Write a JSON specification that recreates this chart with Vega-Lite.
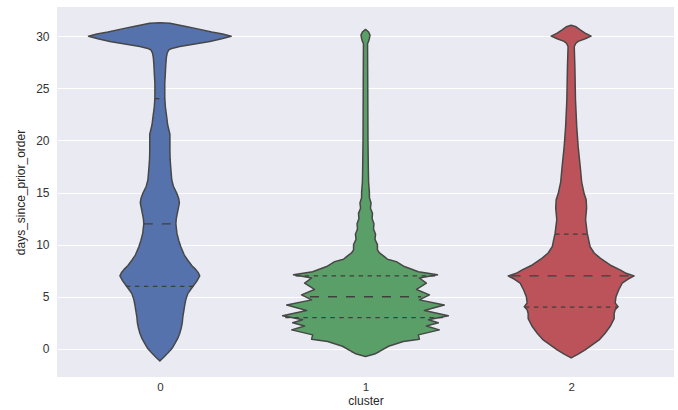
{
  "$schema": "https://vega.github.io/schema/vega-lite/v6.json",
  "width": 617,
  "height": 370,
  "autosize": {"type": "none"},
  "padding": {"left": 57, "top": 7, "right": 4, "bottom": 33},
  "background": "white",
  "config": {
    "view": {"fill": "#EAEAF2", "stroke": null},
    "font": "Liberation Sans"
  },
  "datasets": {
    "violin": [
      {"cluster": 0, "days": -1.15, "w": 0},
      {"cluster": 0, "days": -0.8, "w": 0.019},
      {"cluster": 0, "days": -0.4, "w": 0.039},
      {"cluster": 0, "days": 0, "w": 0.058},
      {"cluster": 0, "days": 0.5, "w": 0.073},
      {"cluster": 0, "days": 1.0, "w": 0.087},
      {"cluster": 0, "days": 1.5, "w": 0.097},
      {"cluster": 0, "days": 2.0, "w": 0.104},
      {"cluster": 0, "days": 2.5, "w": 0.109},
      {"cluster": 0, "days": 3.1, "w": 0.112},
      {"cluster": 0, "days": 3.7, "w": 0.117},
      {"cluster": 0, "days": 4.2, "w": 0.121},
      {"cluster": 0, "days": 4.7, "w": 0.126},
      {"cluster": 0, "days": 5.3, "w": 0.136},
      {"cluster": 0, "days": 5.7, "w": 0.150},
      {"cluster": 0, "days": 6.1, "w": 0.165},
      {"cluster": 0, "days": 6.5, "w": 0.180},
      {"cluster": 0, "days": 7.0, "w": 0.194},
      {"cluster": 0, "days": 7.3, "w": 0.187},
      {"cluster": 0, "days": 7.6, "w": 0.175},
      {"cluster": 0, "days": 8.0, "w": 0.155},
      {"cluster": 0, "days": 8.5, "w": 0.136},
      {"cluster": 0, "days": 9.0, "w": 0.119},
      {"cluster": 0, "days": 9.8, "w": 0.102},
      {"cluster": 0, "days": 10.4, "w": 0.092},
      {"cluster": 0, "days": 11.1, "w": 0.083},
      {"cluster": 0, "days": 12.0, "w": 0.078},
      {"cluster": 0, "days": 12.5, "w": 0.080},
      {"cluster": 0, "days": 13.0, "w": 0.085},
      {"cluster": 0, "days": 13.5, "w": 0.090},
      {"cluster": 0, "days": 14.0, "w": 0.095},
      {"cluster": 0, "days": 14.4, "w": 0.092},
      {"cluster": 0, "days": 14.9, "w": 0.083},
      {"cluster": 0, "days": 15.6, "w": 0.066},
      {"cluster": 0, "days": 16.2, "w": 0.058},
      {"cluster": 0, "days": 17.4, "w": 0.053},
      {"cluster": 0, "days": 18.2, "w": 0.050},
      {"cluster": 0, "days": 19.0, "w": 0.049},
      {"cluster": 0, "days": 20.0, "w": 0.049},
      {"cluster": 0, "days": 20.6, "w": 0.049},
      {"cluster": 0, "days": 21.0, "w": 0.044},
      {"cluster": 0, "days": 21.5, "w": 0.038},
      {"cluster": 0, "days": 22.3, "w": 0.033},
      {"cluster": 0, "days": 23.2, "w": 0.027},
      {"cluster": 0, "days": 24.1, "w": 0.024},
      {"cluster": 0, "days": 25.5, "w": 0.024},
      {"cluster": 0, "days": 26.5, "w": 0.027},
      {"cluster": 0, "days": 27.3, "w": 0.029},
      {"cluster": 0, "days": 28.0, "w": 0.032},
      {"cluster": 0, "days": 28.4, "w": 0.036},
      {"cluster": 0, "days": 28.7, "w": 0.044},
      {"cluster": 0, "days": 28.85, "w": 0.063},
      {"cluster": 0, "days": 29.0, "w": 0.097},
      {"cluster": 0, "days": 29.25, "w": 0.170},
      {"cluster": 0, "days": 29.5, "w": 0.243},
      {"cluster": 0, "days": 29.75, "w": 0.301},
      {"cluster": 0, "days": 30.0, "w": 0.347},
      {"cluster": 0, "days": 30.2, "w": 0.306},
      {"cluster": 0, "days": 30.4, "w": 0.252},
      {"cluster": 0, "days": 30.7, "w": 0.184},
      {"cluster": 0, "days": 30.95, "w": 0.121},
      {"cluster": 0, "days": 31.15, "w": 0.073},
      {"cluster": 0, "days": 31.25, "w": 0.049},
      {"cluster": 0, "days": 31.3, "w": 0},

      {"cluster": 1, "days": -0.73, "w": 0},
      {"cluster": 1, "days": -0.5, "w": 0.044},
      {"cluster": 1, "days": -0.25, "w": 0.068},
      {"cluster": 1, "days": 0.25, "w": 0.112},
      {"cluster": 1, "days": 0.7, "w": 0.184},
      {"cluster": 1, "days": 0.93, "w": 0.262},
      {"cluster": 1, "days": 1.34, "w": 0.257},
      {"cluster": 1, "days": 1.82, "w": 0.359},
      {"cluster": 1, "days": 2.2, "w": 0.296},
      {"cluster": 1, "days": 2.5, "w": 0.354},
      {"cluster": 1, "days": 2.8, "w": 0.306},
      {"cluster": 1, "days": 3.17, "w": 0.403},
      {"cluster": 1, "days": 3.68, "w": 0.286},
      {"cluster": 1, "days": 4.2, "w": 0.383},
      {"cluster": 1, "days": 4.7, "w": 0.262},
      {"cluster": 1, "days": 5.18, "w": 0.311},
      {"cluster": 1, "days": 5.7, "w": 0.248},
      {"cluster": 1, "days": 6.3, "w": 0.296},
      {"cluster": 1, "days": 6.8, "w": 0.262},
      {"cluster": 1, "days": 7.1, "w": 0.350},
      {"cluster": 1, "days": 7.4, "w": 0.257},
      {"cluster": 1, "days": 7.9, "w": 0.189},
      {"cluster": 1, "days": 8.37, "w": 0.150},
      {"cluster": 1, "days": 8.6, "w": 0.107},
      {"cluster": 1, "days": 8.85, "w": 0.092},
      {"cluster": 1, "days": 9.2, "w": 0.068},
      {"cluster": 1, "days": 9.5, "w": 0.058},
      {"cluster": 1, "days": 10.0, "w": 0.058},
      {"cluster": 1, "days": 10.5, "w": 0.046},
      {"cluster": 1, "days": 11.0, "w": 0.049},
      {"cluster": 1, "days": 11.5, "w": 0.039},
      {"cluster": 1, "days": 12.0, "w": 0.041},
      {"cluster": 1, "days": 12.5, "w": 0.032},
      {"cluster": 1, "days": 13.0, "w": 0.034},
      {"cluster": 1, "days": 13.5, "w": 0.024},
      {"cluster": 1, "days": 14.0, "w": 0.027},
      {"cluster": 1, "days": 14.5, "w": 0.019},
      {"cluster": 1, "days": 15.0, "w": 0.019},
      {"cluster": 1, "days": 16.0, "w": 0.015},
      {"cluster": 1, "days": 17.0, "w": 0.014},
      {"cluster": 1, "days": 20.0, "w": 0.012},
      {"cluster": 1, "days": 25.0, "w": 0.011},
      {"cluster": 1, "days": 29.0, "w": 0.010},
      {"cluster": 1, "days": 29.3, "w": 0.010},
      {"cluster": 1, "days": 29.5, "w": 0.015},
      {"cluster": 1, "days": 29.8, "w": 0.019},
      {"cluster": 1, "days": 30.1, "w": 0.022},
      {"cluster": 1, "days": 30.4, "w": 0.015},
      {"cluster": 1, "days": 30.65, "w": 0},

      {"cluster": 2, "days": -0.87, "w": 0},
      {"cluster": 2, "days": -0.5, "w": 0.034},
      {"cluster": 2, "days": -0.1, "w": 0.068},
      {"cluster": 2, "days": 0.86, "w": 0.136},
      {"cluster": 2, "days": 1.5, "w": 0.165},
      {"cluster": 2, "days": 2.14, "w": 0.189},
      {"cluster": 2, "days": 2.9, "w": 0.209},
      {"cluster": 2, "days": 3.4, "w": 0.209},
      {"cluster": 2, "days": 3.75, "w": 0.214},
      {"cluster": 2, "days": 4.05, "w": 0.228},
      {"cluster": 2, "days": 4.4, "w": 0.214},
      {"cluster": 2, "days": 5.0, "w": 0.218},
      {"cluster": 2, "days": 5.65, "w": 0.231},
      {"cluster": 2, "days": 6.3, "w": 0.248},
      {"cluster": 2, "days": 6.7, "w": 0.277},
      {"cluster": 2, "days": 7.0, "w": 0.306},
      {"cluster": 2, "days": 7.25, "w": 0.267},
      {"cluster": 2, "days": 7.58, "w": 0.238},
      {"cluster": 2, "days": 8.05, "w": 0.189},
      {"cluster": 2, "days": 8.7, "w": 0.141},
      {"cluster": 2, "days": 9.2, "w": 0.112},
      {"cluster": 2, "days": 9.8, "w": 0.092},
      {"cluster": 2, "days": 11.1, "w": 0.078},
      {"cluster": 2, "days": 12.4, "w": 0.070},
      {"cluster": 2, "days": 13.5, "w": 0.075},
      {"cluster": 2, "days": 14.3, "w": 0.073},
      {"cluster": 2, "days": 14.9, "w": 0.063},
      {"cluster": 2, "days": 16.0, "w": 0.051},
      {"cluster": 2, "days": 17.5, "w": 0.044},
      {"cluster": 2, "days": 19.4, "w": 0.034},
      {"cluster": 2, "days": 21.3, "w": 0.027},
      {"cluster": 2, "days": 23.9, "w": 0.021},
      {"cluster": 2, "days": 27.1, "w": 0.018},
      {"cluster": 2, "days": 29.0, "w": 0.015},
      {"cluster": 2, "days": 29.3, "w": 0.022},
      {"cluster": 2, "days": 29.5, "w": 0.034},
      {"cluster": 2, "days": 29.75, "w": 0.068},
      {"cluster": 2, "days": 30.0, "w": 0.097},
      {"cluster": 2, "days": 30.3, "w": 0.068},
      {"cluster": 2, "days": 30.6, "w": 0.044},
      {"cluster": 2, "days": 30.9, "w": 0.024},
      {"cluster": 2, "days": 31.05, "w": 0}
    ],
    "quart": [
      {"cluster": 0, "days": 6, "w": 0.165, "stat": "quartile"},
      {"cluster": 0, "days": 12, "w": 0.078, "stat": "median"},
      {"cluster": 0, "days": 24, "w": 0.024, "stat": "quartile"},
      {"cluster": 1, "days": 3, "w": 0.39, "stat": "quartile"},
      {"cluster": 1, "days": 5, "w": 0.27, "stat": "median"},
      {"cluster": 1, "days": 7, "w": 0.34, "stat": "quartile"},
      {"cluster": 2, "days": 4, "w": 0.225, "stat": "quartile"},
      {"cluster": 2, "days": 7, "w": 0.29, "stat": "median"},
      {"cluster": 2, "days": 11, "w": 0.078, "stat": "quartile"}
    ]
  },
  "layer": [
    {
      "data": {"name": "violin"},
      "transform": [
        {"calculate": "datum.cluster - datum.w", "as": "lo"},
        {"calculate": "datum.cluster + datum.w", "as": "hi"}
      ],
      "mark": {"type": "area", "orient": "horizontal", "stroke": "#474747", "strokeWidth": 1.5, "strokeJoin": "round", "fillOpacity": 1, "opacity": 1},
      "encoding": {
        "y": {
          "field": "days", "type": "quantitative",
          "scale": {"domain": [-2.7, 32.8], "nice": false, "zero": false},
          "axis": {
            "values": [0, 5, 10, 15, 20, 25, 30],
            "title": "days_since_prior_order",
            "grid": true, "gridColor": "#ffffff", "gridWidth": 1,
            "domain": false, "ticks": false,
            "labelPadding": 8, "labelFontSize": 12, "labelColor": "#333333",
            "titleFontSize": 12, "titleFontWeight": "normal", "titleColor": "#262626", "titlePadding": 8
          }
        },
        "x": {
          "field": "lo", "type": "quantitative",
          "scale": {"domain": [-0.5, 2.5], "nice": false, "zero": false},
          "axis": {
            "values": [0, 1, 2], "format": "d",
            "title": "cluster",
            "grid": false, "domain": false, "ticks": false,
            "labelPadding": 4, "labelFontSize": 11.5, "labelColor": "#333333",
            "titleFontSize": 12, "titleFontWeight": "normal", "titleColor": "#262626", "titlePadding": 3
          }
        },
        "x2": {"field": "hi"},
        "color": {
          "field": "cluster", "type": "nominal",
          "scale": {"domain": [0, 1, 2], "range": ["#5572AC", "#5B9F68", "#BC535A"]},
          "legend": null
        }
      }
    },
    {
      "data": {"name": "quart"},
      "transform": [
        {"calculate": "datum.cluster - datum.w", "as": "lo"},
        {"calculate": "datum.cluster + datum.w", "as": "hi"}
      ],
      "mark": {"type": "rule", "color": "#3f3f3f", "strokeWidth": 1.3},
      "encoding": {
        "y": {"field": "days", "type": "quantitative"},
        "x": {"field": "lo", "type": "quantitative"},
        "x2": {"field": "hi"},
        "strokeDash": {
          "field": "stat", "type": "nominal",
          "scale": {"domain": ["median", "quartile"], "range": [[9, 9], [4.5, 4.5]]},
          "legend": null
        }
      }
    }
  ]
}
